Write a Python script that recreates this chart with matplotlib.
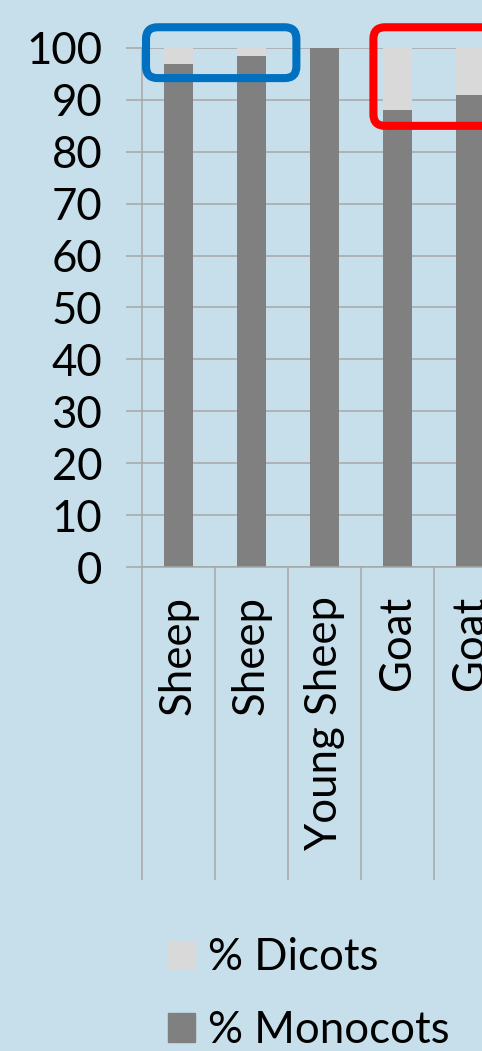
# coding=utf-8
# stacked bars: % monocots / % dicots per animal
import numpy as np
import matplotlib
matplotlib.use('Agg')
import matplotlib.pyplot as plt
from matplotlib.patches import FancyBboxPatch, Patch

labels = ['Sheep', 'Sheep', 'Young Sheep', 'Goat', 'Goat']
monocots = [97, 98.5, 100, 88, 91]
dicots = [3, 1.5, 0, 12, 9]
yticks = [0, 10, 20, 30, 40, 50, 60, 70, 80, 90, 100]

BG = '#c7dfeb'
GRID = '#a6a6a6'
DARK = '#808080'
LIGHT = '#d9d9d9'

plt.rcParams['font.family'] = ['Lato', 'DejaVu Sans']


def drawChart(saveName):
    fig = plt.figure(figsize=(4.82, 10.51), dpi=100)
    fig.patch.set_facecolor(BG)
    # axes runs past the right edge, last bar gets cut like the original
    ax = fig.add_axes([142 / 482, 484 / 1051, 365 / 482, 519 / 1051])
    ax.set_facecolor(BG)

    x = np.arange(len(labels)) + 0.5
    ax.bar(x, monocots, width=0.41, color=DARK, label='% Monocots', zorder=2)
    ax.bar(x, dicots, bottom=monocots, width=0.41, color=LIGHT, label='% Dicots', zorder=2)

    ax.set_xlim(0, len(labels))
    ax.set_ylim(0, 100)
    ax.set_yticks(yticks)
    ax.set_axisbelow(True)
    ax.yaxis.grid(True, color=GRID, linewidth=1.1)

    # category labels in the middle, long separator ticks between
    ax.set_xticks(x)
    ax.set_xticklabels(labels, rotation=90, va='top', ha='center')
    ax.set_xticks(np.arange(len(labels) + 1), minor=True)
    ax.tick_params(axis='x', which='major', length=0, pad=21, labelsize=31.5)
    ax.tick_params(axis='x', which='minor', length=225, width=1.1, color=GRID, direction='out')
    ax.tick_params(axis='y', length=11.5, width=1.1, color=GRID, pad=17, labelsize=31.5)

    for s in ['top', 'right']:
        ax.spines[s].set_visible(False)
    for s in ['left', 'bottom']:
        ax.spines[s].set_color(GRID)
        ax.spines[s].set_linewidth(1.1)

    # highlight boxes
    asp = 73 / 5.19
    blue = FancyBboxPatch((0.055, 94.2), 2.06, 9.8,
                          boxstyle='round,pad=0,rounding_size=0.16',
                          mutation_aspect=asp, fill=False, edgecolor='#0070c0',
                          linewidth=5.8, clip_on=False, zorder=5)
    red = FancyBboxPatch((3.17, 85.0), 2.5, 19.0,
                         boxstyle='round,pad=0,rounding_size=0.16',
                         mutation_aspect=asp, fill=False, edgecolor='#ff0000',
                         linewidth=5.8, clip_on=False, zorder=5)
    ax.add_patch(blue)
    ax.add_patch(red)

    handles = [Patch(color=LIGHT, label='% Dicots'), Patch(color=DARK, label='% Monocots')]
    fig.legend(handles=handles, loc='center left', bbox_to_anchor=(168 / 482, 57 / 1051),
               frameon=False, fontsize=31.5, handlelength=0.62, handleheight=0.62,
               handletextpad=0.3, labelspacing=0.72, borderpad=0, borderaxespad=0)

    plt.savefig(saveName, facecolor=BG)


if __name__ == '__main__':
    drawChart('out.png')
